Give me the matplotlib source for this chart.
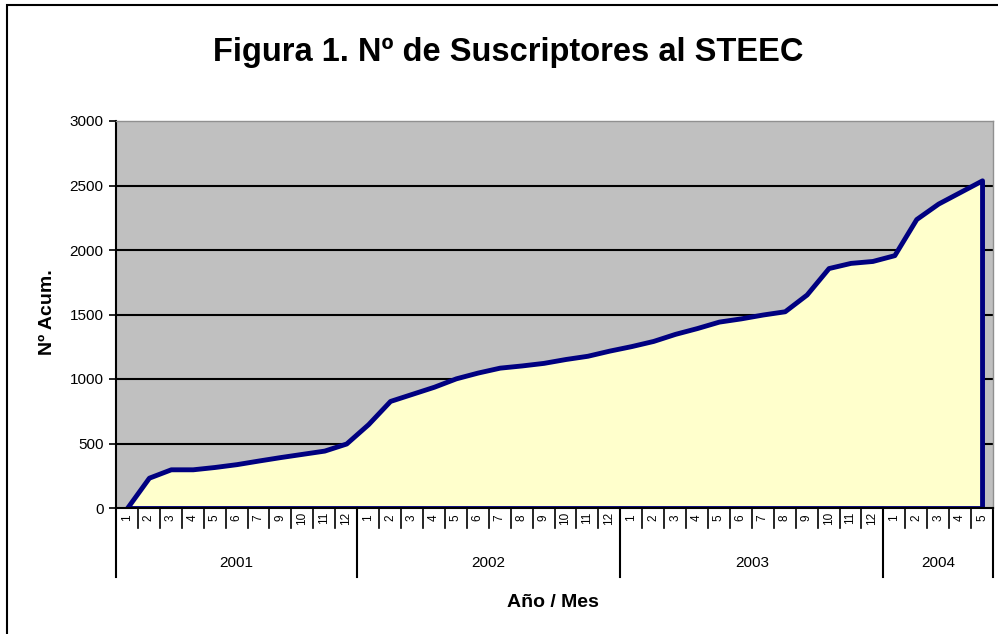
import matplotlib
matplotlib.use("Agg")
import matplotlib.pyplot as plt
from matplotlib.transforms import blended_transform_factory
from matplotlib.patches import Rectangle

plt.rcParams['font.family'] = ['Liberation Sans', 'DejaVu Sans']

# Data
years = ["2001", "2002", "2003", "2004"]
months_2001 = ["1", "2", "3", "4", "5", "6", "7", "9", "10", "11", "12"]
months_2002 = [str(m) for m in range(1, 13)]
months_2003 = [str(m) for m in range(1, 13)]
months_2004 = ["1", "2", "3", "4", "5"]
month_groups = [months_2001, months_2002, months_2003, months_2004]

subscribers = [0, 235, 300, 300, 318, 340, 368, 395, 420, 445, 500,
               650, 830, 885, 940, 1005, 1050, 1088, 1105, 1125, 1155, 1180, 1220,
               1255, 1295, 1350, 1395, 1445, 1470, 1500, 1525, 1655, 1860, 1900, 1915,
               1960, 2240, 2360, 2450, 2540]

title = "Figura 1. Nº de Suscriptores al STEEC"
ylabel = "Nº Acum."
xlabel = "Año / Mes"
yticks = [0, 500, 1000, 1500, 2000, 2500, 3000]

month_labels = [m for g in month_groups for m in g]
x = list(range(len(subscribers)))

fig = plt.figure(figsize=(9.98, 6.34), dpi=100)
fig.patch.set_facecolor('white')
# outer chart border (top and left visible)
fig.patches.append(Rectangle((7/998, -0.1), 1.2, 1 - 5/634 + 0.1, transform=fig.transFigure,
                             fill=False, edgecolor='black', linewidth=1.5))

ax = fig.add_axes([116/998, 1 - 508/634, (993 - 116)/998, (508 - 121)/634])
ax.set_facecolor('#C0C0C0')
ax.set_xlim(-0.5, len(subscribers) - 0.5)
ax.set_ylim(0, 3000)

for yv in yticks[1:-1]:
    ax.axhline(yv, color='black', linewidth=1.5, zorder=1)

ax.fill_between(x, subscribers, 0, facecolor='#FFFFCC', edgecolor='#000080',
                linewidth=3.5, zorder=2, joinstyle='round')

ax.set_yticks(yticks)
ax.set_yticklabels([str(v) for v in yticks], fontsize=11)
ax.tick_params(axis='y', direction='out', length=5, width=1.2, pad=4)
ax.set_xticks([])

for s in ['top', 'right']:
    ax.spines[s].set_color('#909090')
    ax.spines[s].set_linewidth(1)
ax.spines['left'].set_color('black')
ax.spines['left'].set_linewidth(1.5)
ax.spines['bottom'].set_color('black')
ax.spines['bottom'].set_linewidth(1.5)

trans = blended_transform_factory(ax.transData, ax.transAxes)
axh = 508 - 121

# month separators and labels
for i, lab in enumerate(month_labels):
    ax.text(i, -10/axh, lab, transform=trans, rotation=90, ha='center', va='center',
            fontsize=8.5)
for i in range(len(month_labels) + 1):
    ax.plot([i - 0.5, i - 0.5], [0, -20/axh], transform=trans, color='black',
            linewidth=1.2, clip_on=False)

# year separators and labels
start = 0
bounds = [-0.5]
for y, g in zip(years, month_groups):
    end = start + len(g)
    ax.text((start + end - 1) / 2, -55/axh, y, transform=trans, ha='center', va='center',
            fontsize=11)
    bounds.append(end - 0.5)
    start = end
for b in bounds:
    ax.plot([b, b], [0, -69/axh], transform=trans, color='black', linewidth=1.5,
            clip_on=False)

fig.text(553/998, 1 - 607/634, xlabel, ha='center', va='baseline',
         fontsize=14, fontweight='bold')
fig.text(47/998, 1 - 312/634, ylabel, rotation=90, ha='center', va='center',
         fontsize=14, fontweight='bold')
fig.text(508/998, 1 - 61/634, title, ha='center', va='baseline', fontsize=23.5,
         fontweight='bold')

fig.savefig('out.png', dpi=100)
